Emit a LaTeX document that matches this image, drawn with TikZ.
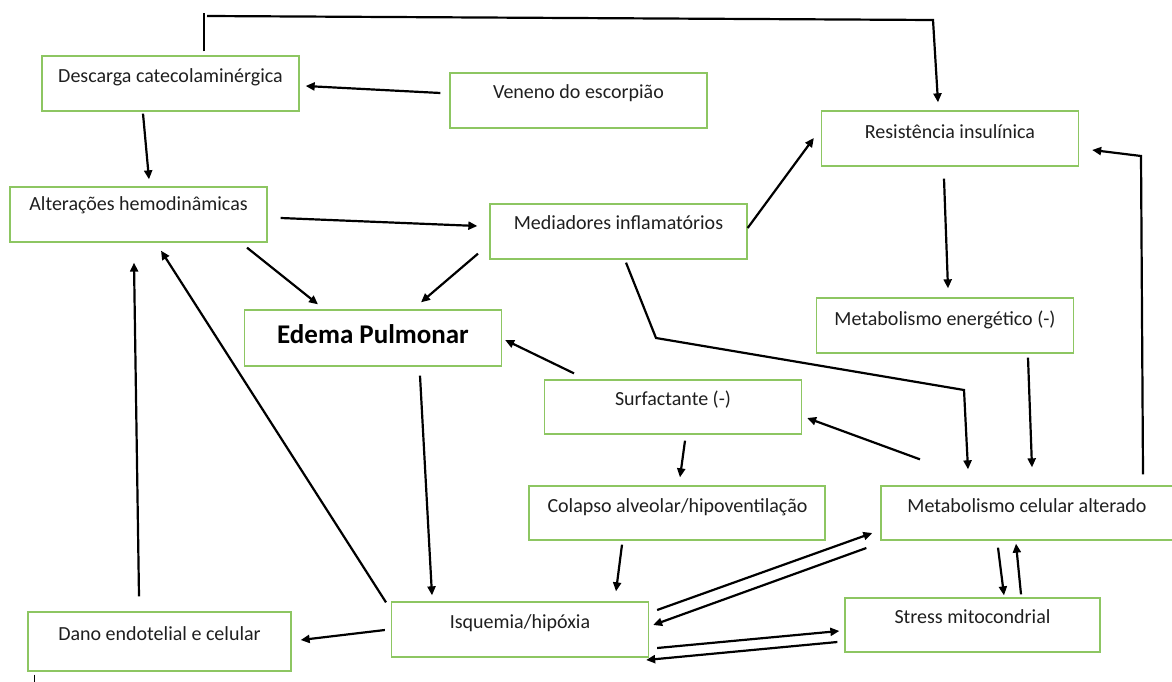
\documentclass[tikz,border=0pt]{standalone}
\usepackage{fontspec}
\setmainfont{Carlito}
\usetikzlibrary{arrows.meta,calc}
\definecolor{boxgreen}{RGB}{141,198,98}
\tikzset{
  box/.style={draw=boxgreen, line width=1.3pt, minimum width=257pt, minimum height=55pt, inner sep=0pt},
  lbl/.style={font=\fontsize{20}{23}\selectfont, inner sep=0pt, text=black!88},
  arr/.style={line width=2.2pt, -{Triangle[length=9pt,width=8pt]}},
  ln/.style={line width=2.2pt}
}
\begin{document}
\begin{tikzpicture}[x=1pt,y=-1pt]
\useasboundingbox (0,0) rectangle (1172,682);
\fill[white] (0,0) rectangle (1172,682);
% boxes
\node[box] (desc) at (170.5,83.5) {};
\node[box] (ven) at (578.5,100.5) {};
\node[box] (res) at (950,138.5) {};
\node[box] (alt) at (138.5,214.5) {};
\node[box] (med) at (618.5,231.5) {};
\node[box, minimum height=56pt] (edema) at (373,338) {};
\node[box] (menerg) at (945,325.5) {};
\node[box, minimum height=54pt] (surf) at (673,407) {};
\node[box, minimum width=296pt, minimum height=54pt] (colapso) at (677,513) {};
\node[box, minimum width=300pt, minimum height=54pt] (mcel) at (1031,513) {};
\node[box, minimum width=255pt, minimum height=54pt] (stress) at (972.5,625) {};
\node[box] (isq) at (520,629.5) {};
\node[box, minimum width=263pt, minimum height=59pt] (dano) at (159.5,641.5) {};
% labels
\node[lbl] (descT) at (170.5,77) {Descarga catecolaminérgica};
\node[lbl] (venT) at (578.5,93) {Veneno do escorpião};
\node[lbl] (resT) at (950,132) {Resistência insulínica};
\node[lbl] (altT) at (138.5,205) {Alterações hemodinâmicas};
\node[lbl] (medT) at (618.5,223) {Mediadores inflamatórios};
\node[lbl, font=\bfseries\fontsize{27}{30}\selectfont, text=black] (edemaT) at (373,334) {Edema Pulmonar};
\node[lbl] (menergT) at (945,320) {Metabolismo energético (-)};
\node[lbl] (surfT) at (673,400) {Surfactante (-)};
\node[lbl] (colapsoT) at (677.5,507) {Colapso alveolar/hipoventilação};
\node[lbl] (mcelT) at (1027,506) {Metabolismo celular alterado};
\node[lbl] (stressT) at (972.5,617) {Stress mitocondrial};
\node[lbl] (isqT) at (520,623) {Isquemia/hipóxia};
\node[lbl] (danoT) at (159.5,634) {Dano endotelial e celular};
% free corner points
\coordinate (tl) at (204,13);
\coordinate (tr) at (933,20);
\coordinate (m1) at (656,338);
\coordinate (m2) at (964,390);
\coordinate (r1) at (1141,156);
% connectors
\draw[ln] ([xshift=33.5pt,yshift=4pt]desc.north) -- (tl);
\draw[arr] ([xshift=3pt,yshift=-3pt]tl) -- (tr) -- ([xshift=-12pt,yshift=8pt]res.north);
\draw[arr] ([xshift=-9pt,yshift=7.5pt]ven.west) -- ([xshift=6pt,yshift=-2.5pt]desc.east);
\draw[arr] ([xshift=-27.5pt,yshift=-2pt]desc.south) -- ([xshift=10.5pt,yshift=7pt]alt.north);
\draw[arr] ([xshift=13pt,yshift=-3.5pt]alt.east) -- ([xshift=-12pt,yshift=5.5pt]med.west);
\draw[arr] ([xshift=108.5pt,yshift=-5pt]alt.south) -- ([xshift=-55pt,yshift=5pt]edema.north);
\draw[arr] ([xshift=-140.5pt,yshift=6pt]med.south) -- ([xshift=48pt,yshift=7pt]edema.north);
\draw[arr] ([yshift=3.5pt]med.east) -- ([xshift=-7pt,yshift=0.5pt]res.west);
\draw[arr] ([xshift=-6pt,yshift=-12pt]res.south) -- ([xshift=3pt,yshift=9pt]menerg.north);
\draw[arr] ([xshift=7.5pt,yshift=-3pt]med.south) -- (m1) -- (m2) -- ([xshift=-63pt,yshift=16pt]mcel.north);
\draw[arr] ([xshift=83pt,yshift=-4pt]menerg.south) -- ([xshift=1pt,yshift=18pt]mcel.north);
\draw[arr] ([xshift=112pt,yshift=11pt]mcel.north) -- (r1) -- ([xshift=13pt,yshift=-11.5pt]res.east);
\draw[arr] ([xshift=-111pt,yshift=26pt]mcel.north) -- ([xshift=5pt,yshift=-11pt]surf.east);
\draw[arr] ([xshift=-99pt,yshift=6pt]surf.north) -- ([xshift=3pt,yshift=-2pt]edema.east);
\draw[arr] ([xshift=12pt,yshift=-6pt]surf.south) -- ([xshift=3pt,yshift=8pt]colapso.north);
\draw[arr] ([xshift=47pt,yshift=-9pt]edema.south) -- ([xshift=-88pt,yshift=6pt]isq.north);
\draw[arr] ([xshift=-55pt,yshift=-4pt]colapso.south) -- ([xshift=96pt,yshift=10pt]isq.north);
\draw[arr] ([xshift=8pt,yshift=19.5pt]isq.east) -- ([xshift=-8pt,yshift=-20pt]mcel.west);
\draw[arr] ([xshift=-14pt,yshift=-35pt]mcel.west) -- ([xshift=4pt,yshift=4.5pt]isq.east);
\draw[arr] ([xshift=8pt,yshift=-18.5pt]isq.east) -- ([xshift=-5pt,yshift=-6pt]stress.west);
\draw[arr] ([xshift=-7pt,yshift=-17pt]stress.west) -- ([xshift=-3pt,yshift=-30.5pt]isq.east);
\draw[arr] ([xshift=-33pt,yshift=-7pt]mcel.south) -- ([xshift=31.5pt,yshift=2pt]stress.north);
\draw[arr] ([xshift=48.5pt,yshift=3pt]stress.north) -- ([xshift=-15pt,yshift=-3pt]mcel.south);
\draw[arr] ([xshift=-134pt,yshift=-1pt]isq.north) -- ([xshift=22.5pt,yshift=-8pt]alt.south);
\draw[arr] ([xshift=-20.5pt,yshift=15pt]dano.north) -- ([xshift=-4.5pt,yshift=-20pt]alt.south);
\draw[arr] ([xshift=-6pt,yshift=-0.5pt]isq.west) -- ([xshift=9pt,yshift=1.5pt]dano.east);
\draw[line width=1pt] ([xshift=7pt,yshift=-3pt]dano.south west) -- ++(0,12);
\end{tikzpicture}
\end{document}
